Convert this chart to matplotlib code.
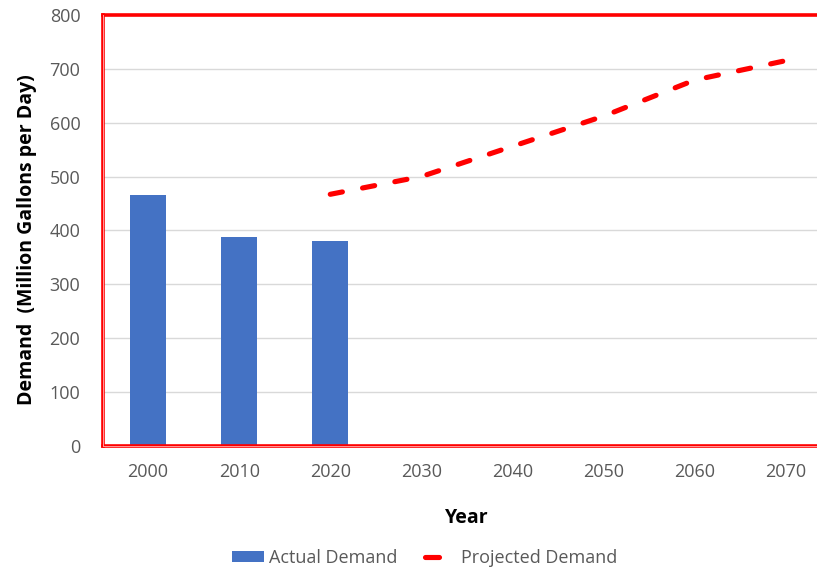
import matplotlib.pyplot as plt
from matplotlib.lines import Line2D
import numpy as np

plt.rcParams['font.family'] = ['Open Sans', 'DejaVu Sans']

years = ['2000', '2010', '2020', '2030', '2040', '2050', '2060', '2070']
actual_years = ['2000', '2010', '2020']
actual_demand = [466, 388, 380]
projected_years = ['2020', '2030', '2040', '2050', '2060', '2070']
projected_demand = [467, 500, 556, 612, 679, 715]

x_pos = {y: i for i, y in enumerate(years)}

fig = plt.figure(figsize=(8.17, 5.71), dpi=100)
ax = fig.add_axes([0.1255, 0.219, 0.892, 0.755])

bars = ax.bar([x_pos[y] for y in actual_years], actual_demand, width=0.4,
              color='#4472C4', label='Actual Demand', zorder=2)
ax.plot([x_pos[y] for y in projected_years], projected_demand,
        color='#FF0000', lw=3.7, dashes=(2.4, 4.0), dash_capstyle='round',
        label='Projected Demand', zorder=3)

ax.set_xlim(-0.5, 7.5)
ax.set_ylim(0, 800)
ax.set_yticks(np.arange(0, 801, 100))
ax.set_xticks(range(len(years)))
ax.set_xticklabels(years)
ax.tick_params(axis='both', length=0, labelsize=13, labelcolor='#595959')
ax.tick_params(axis='x', pad=12)
ax.tick_params(axis='y', pad=16)

ax.grid(axis='y', color='#D9D9D9', lw=1, zorder=0)
ax.set_axisbelow(True)

# red plot-area border
for side in ['top', 'left', 'bottom']:
    ax.spines[side].set_color('#FF0000')
    ax.spines[side].set_linewidth(2.6)
ax.spines['right'].set_visible(False)
ax.axvline(-0.5, color='#FF9999', lw=0.7, zorder=5, clip_on=False)
ax.axhline(0, color='#FF9999', lw=0.7, zorder=5, clip_on=False)

ax.set_ylabel('Demand  (Million Gallons per Day)', fontsize=14,
              fontweight='bold')
ax.yaxis.set_label_coords(-0.09, 0.478)
ax.set_xlabel('Year', fontsize=14, fontweight='bold', labelpad=20)

# legend: two pieces so each key gets its own length
fig.legend([bars], ['Actual Demand'], loc='center left',
           bbox_to_anchor=(232 / 817, 0.023), frameon=False, fontsize=13,
           labelcolor='#595959', handlelength=1.77, handleheight=0.55,
           handletextpad=0.3, borderpad=0, borderaxespad=0)
dash_key = Line2D([], [], color='#FF0000', lw=3.7, solid_capstyle='round')
fig.legend([dash_key], ['Projected Demand'], loc='center left',
           bbox_to_anchor=(424.5 / 817, 0.023), frameon=False, fontsize=13,
           labelcolor='#595959', handlelength=0.78, handletextpad=1.25,
           borderpad=0, borderaxespad=0)

plt.savefig('out.png', dpi=100)
